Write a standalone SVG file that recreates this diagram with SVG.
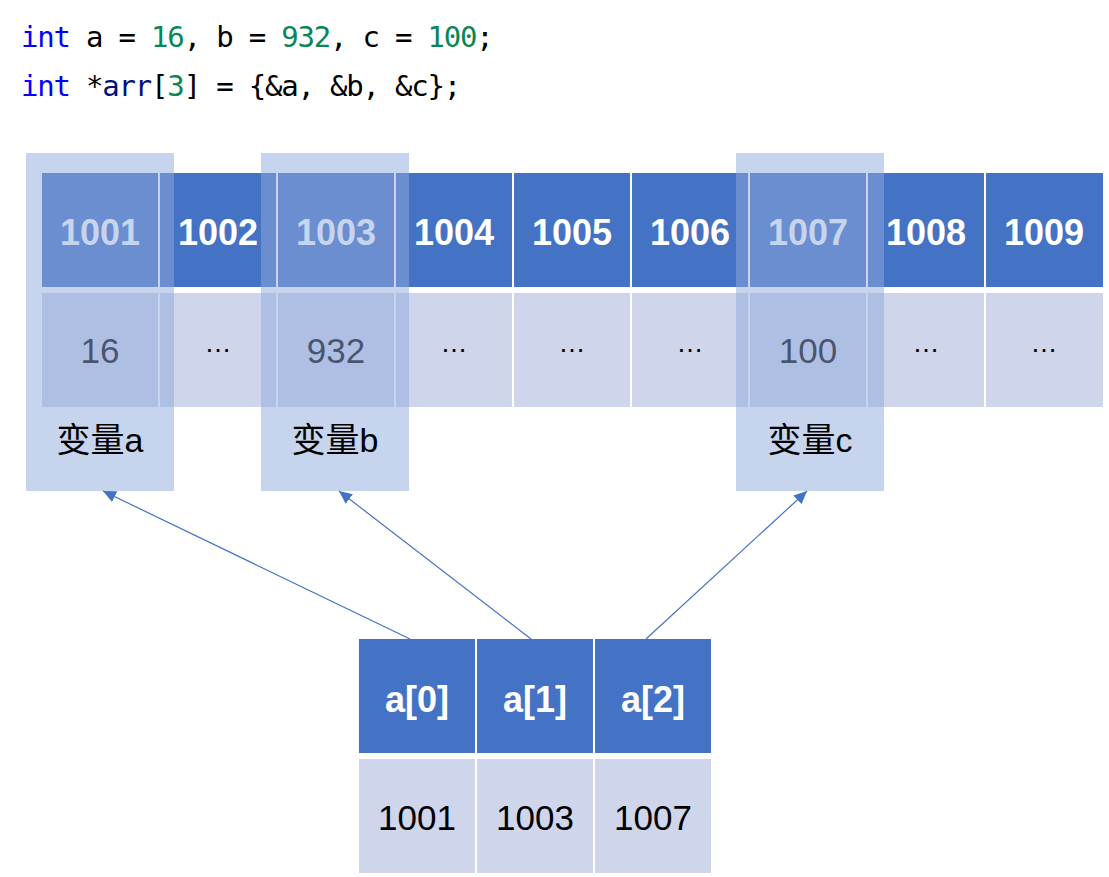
<svg xmlns="http://www.w3.org/2000/svg" width="1109" height="877" viewBox="0 0 1109 877">
<style>
.code{font-family:"DejaVu Sans Mono","Liberation Mono",monospace;font-size:29px;letter-spacing:-1.2px;fill:#000}
.kw{fill:#0000FF}.num{fill:#098658}.var{fill:#001080}
.hd{fill:#4472C4}.bd{fill:#CFD5EA}
.ht{font-family:"Liberation Sans",Arial,sans-serif;font-size:36px;font-weight:bold;fill:#fff;text-anchor:middle}
.bt{font-family:"Liberation Sans",Arial,sans-serif;font-size:35px;fill:#000;text-anchor:middle}
.dots{font-family:"Liberation Sans",Arial,sans-serif;font-size:27px;fill:#000;text-anchor:middle}
.ov{fill:#8FAADC;opacity:0.5}
.lbl{font-family:"Liberation Sans","Noto Sans CJK SC",sans-serif;font-size:34px;fill:#000;text-anchor:middle}
.conn{stroke:#4472C4;stroke-width:1.2;fill:none}
</style>
<defs>
<marker id="ah" markerUnits="userSpaceOnUse" markerWidth="14" markerHeight="12" refX="13" refY="6" orient="auto">
<path d="M0,0 L13,6 L0,12 Z" fill="#4472C4"/>
</marker>
</defs>
<g id="code">
<text class="code" x="21" y="47"><tspan class="kw">int</tspan> a = <tspan class="num">16</tspan>, b = <tspan class="num">932</tspan>, c = <tspan class="num">100</tspan>;</text>
<text class="code" x="21" y="96"><tspan class="kw">int</tspan> *<tspan class="var">arr</tspan>[<tspan class="num">3</tspan>] = {&amp;a, &amp;b, &amp;c};</text>
</g>
<g id="memory">
<g id="m1001"><rect class="hd" x="42" y="173" width="116" height="114"/><rect class="bd" x="42" y="293" width="116" height="114"/><text class="ht" x="100" y="245">1001</text><text class="bt" x="100" y="363">16</text></g>
<g id="m1002"><rect class="hd" x="160" y="173" width="116" height="114"/><rect class="bd" x="160" y="293" width="116" height="114"/><text class="ht" x="218" y="245">1002</text><text class="dots" x="218" y="352">…</text></g>
<g id="m1003"><rect class="hd" x="278" y="173" width="116" height="114"/><rect class="bd" x="278" y="293" width="116" height="114"/><text class="ht" x="336" y="245">1003</text><text class="bt" x="336" y="363">932</text></g>
<g id="m1004"><rect class="hd" x="396" y="173" width="116" height="114"/><rect class="bd" x="396" y="293" width="116" height="114"/><text class="ht" x="454" y="245">1004</text><text class="dots" x="454" y="352">…</text></g>
<g id="m1005"><rect class="hd" x="514" y="173" width="116" height="114"/><rect class="bd" x="514" y="293" width="116" height="114"/><text class="ht" x="572" y="245">1005</text><text class="dots" x="572" y="352">…</text></g>
<g id="m1006"><rect class="hd" x="632" y="173" width="116" height="114"/><rect class="bd" x="632" y="293" width="116" height="114"/><text class="ht" x="690" y="245">1006</text><text class="dots" x="690" y="352">…</text></g>
<g id="m1007"><rect class="hd" x="750" y="173" width="116" height="114"/><rect class="bd" x="750" y="293" width="116" height="114"/><text class="ht" x="808" y="245">1007</text><text class="bt" x="808" y="363">100</text></g>
<g id="m1008"><rect class="hd" x="868" y="173" width="116" height="114"/><rect class="bd" x="868" y="293" width="116" height="114"/><text class="ht" x="926" y="245">1008</text><text class="dots" x="926" y="352">…</text></g>
<g id="m1009"><rect class="hd" x="986" y="173" width="117" height="114"/><rect class="bd" x="986" y="293" width="117" height="114"/><text class="ht" x="1044" y="245">1009</text><text class="dots" x="1044" y="352">…</text></g>
</g>
<g id="varA"><rect class="ov" x="26" y="153" width="148" height="338"/><text class="lbl" x="100" y="452">变量a</text></g>
<g id="varB"><rect class="ov" x="261" y="153" width="148" height="338"/><text class="lbl" x="335" y="452">变量b</text></g>
<g id="varC"><rect class="ov" x="736" y="153" width="148" height="338"/><text class="lbl" x="810" y="452">变量c</text></g>
<g id="arr">
<g id="arr0"><rect class="hd" x="359" y="639" width="116" height="114"/><rect class="bd" x="359" y="759" width="116" height="114"/><text class="ht" x="417" y="712">a[0]</text><text class="bt" x="417" y="830">1001</text></g>
<g id="arr1"><rect class="hd" x="477" y="639" width="116" height="114"/><rect class="bd" x="477" y="759" width="116" height="114"/><text class="ht" x="535" y="712">a[1]</text><text class="bt" x="535" y="830">1003</text></g>
<g id="arr2"><rect class="hd" x="595" y="639" width="116" height="114"/><rect class="bd" x="595" y="759" width="116" height="114"/><text class="ht" x="653" y="712">a[2]</text><text class="bt" x="653" y="830">1007</text></g>
</g>
<g id="connectors">
<line class="conn" x1="410" y1="639" x2="103" y2="491" marker-end="url(#ah)"/>
<line class="conn" x1="531" y1="639" x2="339" y2="491" marker-end="url(#ah)"/>
<line class="conn" x1="646" y1="639" x2="807" y2="491" marker-end="url(#ah)"/>
</g>
</svg>
